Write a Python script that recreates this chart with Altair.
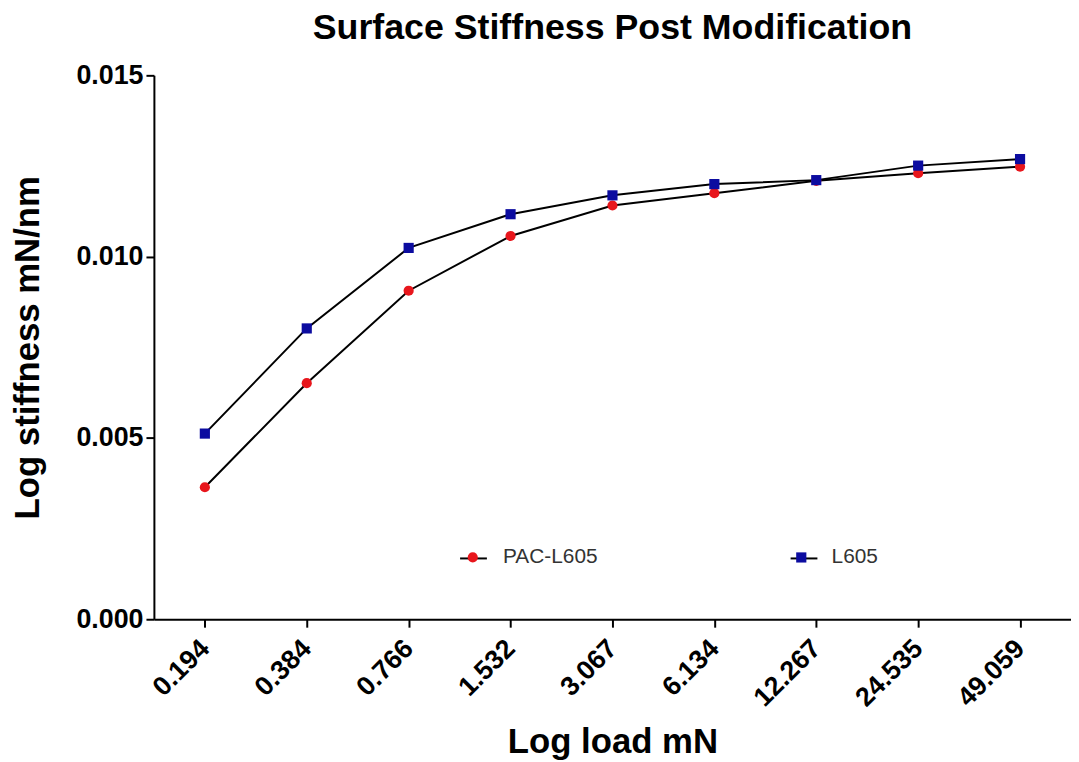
import altair as alt
import pandas as pd

loads = ["0.194", "0.384", "0.766", "1.532", "3.067", "6.134", "12.267", "24.535", "49.059"]
pac_l605 = [0.00364, 0.00651, 0.00906, 0.01057, 0.01141, 0.01175, 0.01209, 0.01230, 0.01248]
l605 = [0.00512, 0.00802, 0.01024, 0.01117, 0.01169, 0.01200, 0.01211, 0.01251, 0.01269]
series_names = ["PAC-L605", "L605"]
series_colors = ["#e8161c", "#0c0ca0"]
series_shapes = ["circle", "square"]
y_ticks = [0.0, 0.005, 0.010, 0.015]

rows = []
for name, vals in zip(series_names, [pac_l605, l605]):
    for ld, v in zip(loads, vals):
        rows.append({"load": ld, "stiffness": v, "series": name, "series_l": name})
df = pd.DataFrame(rows)

FONT = "Liberation Sans"

x_enc = alt.X(
    "load:O",
    sort=loads,
    scale=alt.Scale(type="point", padding=0.5),
    axis=alt.Axis(
        title="Log load mN",
        labelAngle=-45,
        labelAlign="right",
        labelBaseline="middle",
        labelPadding=17,
        titlePadding=14,
    ),
)
y_enc = alt.Y(
    "stiffness:Q",
    scale=alt.Scale(domain=[0, 0.015], nice=False, zero=True),
    axis=alt.Axis(
        title="Log stiffness mN/nm",
        values=y_ticks,
        format=".3f",
        titlePadding=31,
        labelPadding=3,
    ),
)

lines = alt.Chart(df).mark_line(strokeWidth=2).encode(
    x=x_enc,
    y=y_enc,
    stroke=alt.Stroke(
        "series_l:N",
        sort=series_names,
        scale=alt.Scale(range=["black", "black"]),
        legend=alt.Legend(
            title=None,
            orient="none",
            direction="horizontal",
            legendX=307.5,
            legendY=472,
            symbolType="stroke",
            symbolSize=729,
            symbolStrokeWidth=2,
            labelExpr="''",
            labelOffset=0,
            columnPadding=298,
            padding=0,
        ),
    ),
)

points = alt.Chart(df).mark_point(filled=True, opacity=1, size=105).encode(
    x=x_enc,
    y=y_enc,
    color=alt.Color(
        "series:N",
        sort=series_names,
        scale=alt.Scale(domain=series_names, range=series_colors),
        legend=alt.Legend(
            title=None,
            orient="none",
            direction="horizontal",
            legendX=310.75,
            legendY=475,
            symbolSize=105,
            symbolOpacity=1,
            symbolStrokeWidth=0,
            labelOffset=20,
            labelFontSize=21,
            labelFont=FONT,
            labelColor="#333333",
            columnPadding=194,
            padding=0,
        ),
    ),
    shape=alt.Shape(
        "series:N",
        sort=series_names,
        scale=alt.Scale(domain=series_names, range=series_shapes),
    ),
)

chart = (
    alt.layer(lines, points)
    .properties(
        width=924,
        height=548,
        background="white",
        title=alt.TitleParams(
            "Surface Stiffness Post Modification",
            font=FONT,
            fontSize=36,
            fontWeight="bold",
            color="black",
            anchor="middle",
            frame="group",
            offset=15,
        ),
        autosize=alt.AutoSizeParams(type="none"),
        padding={"left": 147, "top": 65, "right": 0, "bottom": 141},
    )
    .configure_view(stroke=None)
    .configure_axis(
        labelFont=FONT,
        labelFontSize=27,
        labelFontWeight="bold",
        labelColor="black",
        titleFont=FONT,
        titleFontSize=35,
        titleFontWeight="bold",
        titleColor="black",
        domainColor="black",
        domainWidth=2,
        tickColor="black",
        tickWidth=2,
        tickSize=8,
        grid=False,
    )
)

chart.save("out.html", embed_options={"renderer": "svg", "actions": False})
